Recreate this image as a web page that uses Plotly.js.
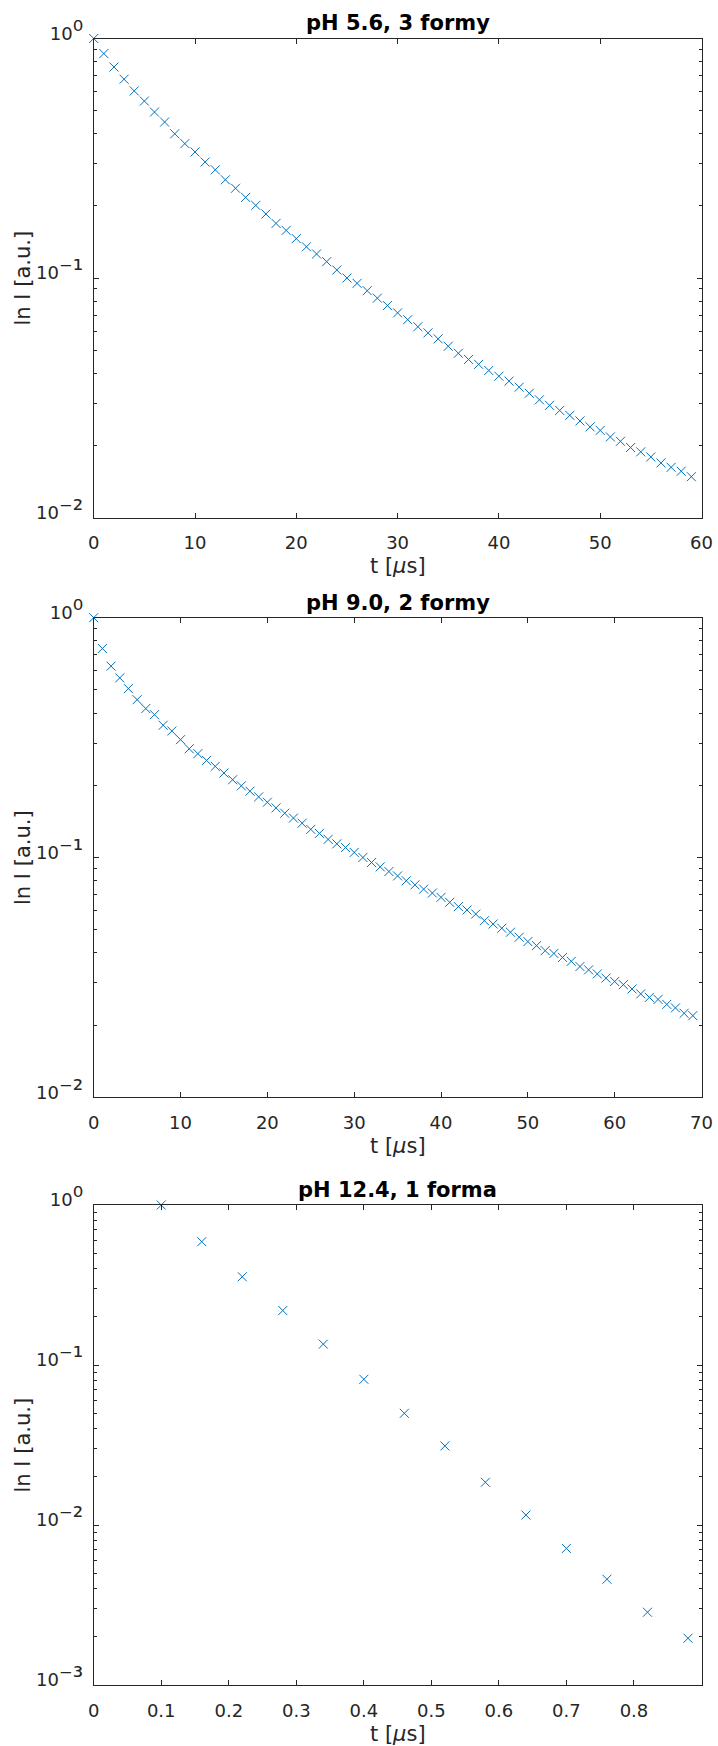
<!DOCTYPE html>
<html>
<head>
<meta charset="utf-8">
<script src="https://cdn.plot.ly/plotly-3.0.1.min.js"></script>
<style>html,body{margin:0;padding:0;background:#fff}#plot{width:718px;height:1746px}</style>
</head>
<body>
<div id="plot"></div>
<script>
// ---- data ----
const titles = ["pH 5.6, 3 formy", "pH 9.0, 2 formy", "pH 12.4, 1 forma"];
const xLabel = "t [<i>μ</i>s]";
const yLabel = "ln I [a.u.]";

const t1 = [0,1,2,3,4,5,6,7,8,9,10,11,12,13,14,15,16,17,18,19,20,21,22,23,24,25,26,27,28,29,
            30,31,32,33,34,35,36,37,38,39,40,41,42,43,44,45,46,47,48,49,50,51,52,53,54,55,56,57,58,59];
const y1 = [1.000,0.865,0.760,0.676,0.604,0.548,0.493,0.448,0.400,0.364,
            0.336,0.305,0.283,0.257,0.237,0.217,0.201,0.185,0.169,0.158,
            0.146,0.135,0.126,0.117,0.108,0.100,0.0950,0.0885,0.0824,0.0767,
            0.0715,0.0670,0.0626,0.0590,0.0557,0.0519,0.0485,0.0457,0.0436,0.0411,
            0.0389,0.0371,0.0350,0.0330,0.0310,0.0294,0.0280,0.0267,0.0253,0.0239,
            0.0231,0.0217,0.0208,0.0196,0.0188,0.0179,0.0169,0.0162,0.0156,0.0148];

const t2 = [0,1,2,3,4,5,6,7,8,9,10,11,12,13,14,15,16,17,18,19,20,21,22,23,24,25,26,27,28,29,
            30,31,32,33,34,35,36,37,38,39,40,41,42,43,44,45,46,47,48,49,50,51,52,53,54,55,56,57,58,59,
            60,61,62,63,64,65,66,67,68,69];
const y2 = [1.000,0.744,0.628,0.561,0.506,0.455,0.418,0.394,0.356,0.337,
            0.310,0.284,0.271,0.254,0.240,0.225,0.211,0.199,0.189,0.179,
            0.170,0.161,0.153,0.146,0.139,0.131,0.126,0.119,0.114,0.110,
            0.105,0.100,0.0953,0.0914,0.0874,0.0838,0.0800,0.0769,0.0738,0.0711,
            0.0682,0.0650,0.0624,0.0604,0.0581,0.0545,0.0528,0.0507,0.0488,0.0465,
            0.0446,0.0429,0.0409,0.0398,0.0383,0.0369,0.0351,0.0340,0.0327,0.0314,
            0.0304,0.0295,0.0283,0.0270,0.0261,0.0256,0.0244,0.0236,0.0224,0.0219];

const t3 = [0.10,0.16,0.22,0.28,0.34,0.40,0.46,0.52,0.58,0.64,0.70,0.76,0.82,0.88];
const y3 = [1.0,0.590,0.356,0.219,0.135,0.0814,0.0499,0.0312,0.0185,0.01154,0.00714,0.00458,0.00285,0.00196];

const xTicks1 = [0,10,20,30,40,50,60];
const xTicks2 = [0,10,20,30,40,50,60,70];
const xTicks3 = [0,0.1,0.2,0.3,0.4,0.5,0.6,0.7,0.8];
const yTicksA = [0.01,0.1,1];
const yExpA   = ["⁻²","⁻¹","⁰"];
const yTicksB = [0.001,0.01,0.1,1];
const yExpB   = ["⁻³","⁻²","⁻¹","⁰"];
const yMinorA = [0.02,0.03,0.04,0.05,0.06,0.07,0.08,0.09,0.2,0.3,0.4,0.5,0.6,0.7,0.8,0.9];
const yMinorB = [0.002,0.003,0.004,0.005,0.006,0.007,0.008,0.009,
                 0.02,0.03,0.04,0.05,0.06,0.07,0.08,0.09,0.2,0.3,0.4,0.5,0.6,0.7,0.8,0.9];

// ---- layout geometry (pixels) ----
const W = 718, H = 1746;
const L = 93.7, R = 701.5;
const boxes = [{top:38.5, bot:517.5}, {top:617.7, bot:1097.3}, {top:1205, bot:1685}];
const px = v => v / W;
const py = v => 1 - v / H;

const FONT = "DejaVu Sans";
const AX = "#262626";
const BLUE = "#0072BD";

const expLabel = e => '10<span style="font-size:26px">' + e + '</span>';

function trace(x, y, i) {
  const s = i === 0 ? "" : String(i + 1);
  return {
    type: "scatter", mode: "markers", x: x, y: y,
    xaxis: "x" + s, yaxis: "y" + s, cliponaxis: false, hoverinfo: "skip",
    marker: {symbol: "x-thin", size: 9, color: BLUE, line: {width: 1, color: BLUE}}
  };
}

function xaxis(i, range, ticks) {
  return {
    domain: [px(L), px(R)], anchor: "y" + (i === 0 ? "" : i + 1),
    range: range, tickmode: "array", tickvals: ticks, ticktext: ticks.map(String),
    showline: true, linecolor: AX, linewidth: 1, mirror: "ticks",
    ticks: "inside", ticklen: 5, tickcolor: AX, tickwidth: 1,
    showgrid: false, zeroline: false, ticklabelstandoff: 9,
    tickfont: {family: FONT, size: 18, color: AX}
  };
}
function yaxis(i, range, ticks, exps, minor) {
  const b = boxes[i];
  return {
    type: "log", domain: [py(b.bot), py(b.top)], anchor: "x" + (i === 0 ? "" : i + 1),
    range: range, tickmode: "array", tickvals: ticks, ticktext: exps.map(expLabel),
    showline: true, linecolor: AX, linewidth: 1, mirror: "ticks",
    ticks: "inside", ticklen: 5, tickcolor: AX, tickwidth: 1,
    minor: {tickmode: "array", tickvals: minor, ticks: "inside", ticklen: 3, tickcolor: AX, tickwidth: 1, showgrid: false},
    showgrid: false, zeroline: false, ticklabelstandoff: 6, ticklabelshift: -5,
    tickfont: {family: FONT, size: 18, color: AX}
  };
}

const annotations = [];
boxes.forEach((b, i) => {
  annotations.push({
    text: "<b>" + titles[i] + "</b>", xref: "paper", yref: "paper",
    x: px((L + R) / 2), y: py(b.top - 15), xanchor: "center", yanchor: "middle",
    showarrow: false, font: {family: FONT, size: 21, color: "#000"}
  });
  annotations.push({
    text: xLabel, xref: "paper", yref: "paper",
    x: px((L + R) / 2), y: py(b.bot + 49), xanchor: "center", yanchor: "middle",
    showarrow: false, font: {family: FONT, size: 21, color: AX}
  });
  annotations.push({
    text: yLabel, xref: "paper", yref: "paper", textangle: -90,
    x: px(22.5), y: py((b.top + b.bot) / 2), xanchor: "center", yanchor: "middle",
    showarrow: false, font: {family: FONT, size: 21, color: AX}
  });
});

const layout = {
  width: W, height: H, margin: {l: 0, r: 0, t: 0, b: 0},
  paper_bgcolor: "#fff", plot_bgcolor: "#fff", showlegend: false,
  font: {family: FONT, color: AX},
  xaxis: xaxis(0, [0, 60], xTicks1),
  xaxis2: xaxis(1, [0, 70], xTicks2),
  xaxis3: xaxis(2, [0, 0.9], xTicks3),
  yaxis: yaxis(0, [-2, 0], yTicksA, yExpA, yMinorA),
  yaxis2: yaxis(1, [-2, 0], yTicksA, yExpA, yMinorA),
  yaxis3: yaxis(2, [-3, 0], yTicksB, yExpB, yMinorB),
  annotations: annotations
};

Plotly.newPlot("plot", [trace(t1, y1, 0), trace(t2, y2, 1), trace(t3, y3, 2)], layout,
  {staticPlot: true, displayModeBar: false});
</script>
</body>
</html>
